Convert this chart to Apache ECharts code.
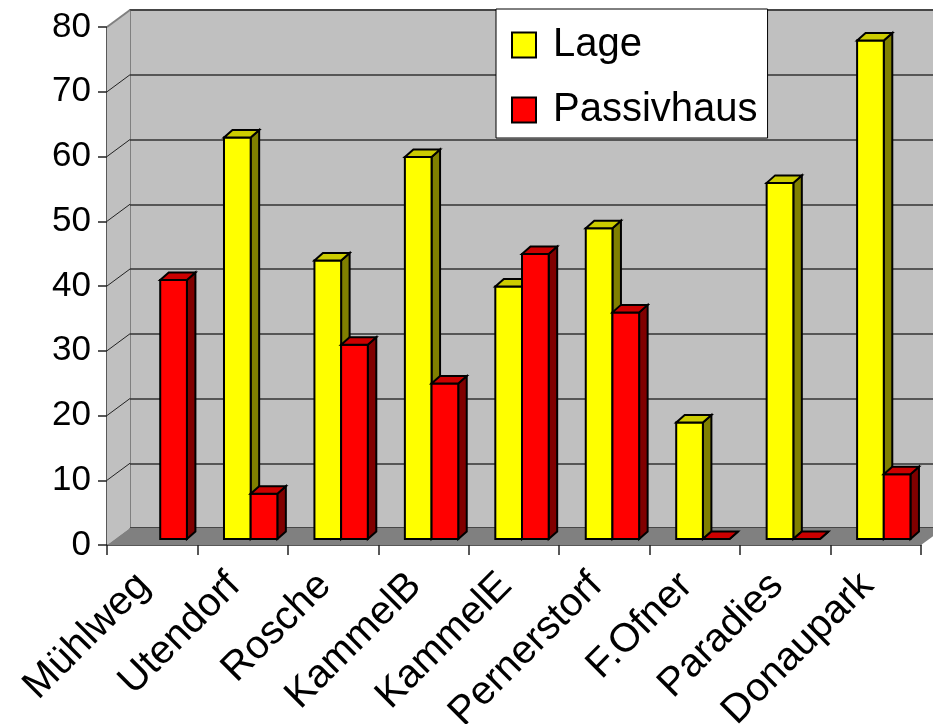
<!DOCTYPE html>
<html>
<head>
<meta charset="utf-8">
<script src="https://cdn.jsdelivr.net/npm/echarts@6/dist/echarts.min.js"></script>
<style>
  html, body { margin: 0; padding: 0; background: #fff; }
  #chart { width: 933px; height: 724px; }
</style>
</head>
<body>
<div id="chart"></div>
<script>
// Sites compared on two criteria
const categories = ['Mühlweg', 'Utendorf', 'Rosche', 'KammelB', 'KammelE', 'Pernerstorf', 'F.Ofner', 'Paradies', 'Donaupark'];
const lage = [null, 62, 43, 59, 39, 48, 18, 55, 77];
const passivhaus = [40, 7, 30, 24, 44, 35, 0, 0, 10];
const valueTicks = [0, 10, 20, 30, 40, 50, 60, 70, 80];
const seriesNames = ['Lage', 'Passivhaus'];

const FONT = 'Liberation Sans, Arial, sans-serif';

// oblique projection of the chart box (pixels)
const WALL_DX = 23, WALL_DY = -17;    // full depth of floor / side wall
const BAR_OFF_DX = 8, BAR_OFF_DY = -6; // bars sit a bit behind the front edge
const BAR_DX = 8.5, BAR_DY = -7.5;    // depth of a single column
const BAR_W = 0.295;                  // column width as share of category band

const palette = {
  Lage: { front: '#ffff00', side: '#808000', top: '#cccc00' },
  Passivhaus: { front: '#ff0000', side: '#800000', top: '#cc0000' }
};

function poly(points, fill) {
  return {
    type: 'polygon',
    shape: { points },
    style: { fill, stroke: '#000', lineWidth: 2, lineJoin: 'miter' }
  };
}

function columnRenderer(side, colors) {
  return function (params, api) {
    const c = api.value(0), v = api.value(1);
    if (v === null || v === undefined || isNaN(v)) return;
    const band = api.size([1, 0])[0];
    const w = band * BAR_W;
    const base = api.coord([c, 0]);
    const peak = api.coord([c, v]);
    const x0 = base[0] + BAR_OFF_DX + (side < 0 ? -w : 0);
    const x1 = x0 + w;
    const yb = base[1] + BAR_OFF_DY;
    const yt = peak[1] + BAR_OFF_DY;
    return {
      type: 'group',
      children: [
        poly([[x1, yb], [x1 + BAR_DX, yb + BAR_DY], [x1 + BAR_DX, yt + BAR_DY], [x1, yt]], colors.side),
        poly([[x0, yb], [x1, yb], [x1, yt], [x0, yt]], colors.front),
        poly([[x0, yt], [x1, yt], [x1 + BAR_DX, yt + BAR_DY], [x0 + BAR_DX, yt + BAR_DY]], colors.top)
      ]
    };
  };
}

// left side wall and floor of the chart box
function chamberRenderer(params, api) {
  const band = api.size([1, 0])[0];
  const left = api.coord([0, 0])[0] - band / 2;
  const right = api.coord([categories.length - 1, 0])[0] + band / 2;
  const yZero = api.coord([0, valueTicks[0]])[1];
  const yTop = api.coord([0, valueTicks[valueTicks.length - 1]])[1];
  const children = [
    {
      type: 'polygon',
      shape: { points: [[left, yTop], [left + WALL_DX, yTop + WALL_DY], [left + WALL_DX, yZero + WALL_DY], [left, yZero]] },
      style: { fill: '#c0c0c0' }
    },
    {
      type: 'polygon',
      shape: { points: [[left, yZero], [right, yZero], [right + WALL_DX, yZero + WALL_DY], [left + WALL_DX, yZero + WALL_DY]] },
      style: { fill: '#808080' }
    },
    {
      type: 'line',
      shape: { x1: left, y1: yTop, x2: left + WALL_DX, y2: yTop + WALL_DY },
      style: { stroke: '#808080', lineWidth: 2 }
    }
  ];
  valueTicks.slice(1, -1).forEach(t => {
    const y = api.coord([0, t])[1];
    children.push({
      type: 'line',
      shape: { x1: left, y1: y, x2: left + WALL_DX, y2: y + WALL_DY },
      style: { stroke: '#222', lineWidth: 1 }
    });
  });
  return { type: 'group', children };
}

const chart = echarts.init(document.getElementById('chart'), null, { renderer: 'canvas' });

chart.setOption({
  backgroundColor: '#fff',
  animation: false,
  textStyle: { fontFamily: FONT },
  legend: {
    data: seriesNames,
    orient: 'vertical',
    left: 496,
    top: 9,
    padding: [16, 10, 8, 15],
    itemGap: 25,
    itemWidth: 24,
    itemHeight: 25,
    icon: 'rect',
    selectedMode: false,
    backgroundColor: '#fff',
    borderColor: '#000',
    borderWidth: 1,
    itemStyle: { borderColor: '#000', borderWidth: 2 },
    textStyle: { fontSize: 40, color: '#000', fontFamily: FONT, padding: [0, 0, 0, 12] }
  },
  grid: [
    // front plane: axes, ticks and labels
    { left: 107, right: 12, top: 27, bottom: 179, containLabel: false, outerBoundsMode: 'none' },
    // back wall
    { left: 107 + WALL_DX, right: 12 - WALL_DX, top: 27 + WALL_DY, bottom: 179 - WALL_DY,
      containLabel: false, outerBoundsMode: 'none',
      show: true, backgroundColor: '#c0c0c0', borderColor: '#808080', borderWidth: 2, z: -1 }
  ],
  xAxis: [
    {
      type: 'category', gridIndex: 0, data: categories, boundaryGap: true,
      axisLine: { show: true, lineStyle: { color: '#222', width: 1.5 } },
      axisTick: { show: true, interval: 0, length: 10, lineStyle: { color: '#222', width: 1.5 } },
      axisLabel: { interval: 0, rotate: 45, fontSize: 40, color: '#000', fontFamily: FONT,
                   margin: 26, padding: [0, 12, 0, 0] },
      splitLine: { show: false }
    },
    {
      type: 'category', gridIndex: 1, data: categories, boundaryGap: true,
      axisLine: { show: false }, axisTick: { show: false }, axisLabel: { show: false },
      splitLine: { show: false }
    }
  ],
  yAxis: [
    {
      type: 'value', gridIndex: 0, min: 0, max: 80, interval: 10,
      axisLine: { show: true, lineStyle: { color: '#222', width: 1.5 } },
      axisTick: { show: true, length: 9, lineStyle: { color: '#222', width: 1.5 } },
      axisLabel: { fontSize: 35, color: '#000', fontFamily: FONT, margin: 16 },
      splitLine: { show: false }
    },
    {
      type: 'value', gridIndex: 1, min: 0, max: 80, interval: 10,
      axisLine: { show: false }, axisTick: { show: false }, axisLabel: { show: false },
      splitLine: { show: true, lineStyle: { color: '#333', width: 1.5 } }
    }
  ],
  series: [
    {
      name: 'chamber', type: 'custom', xAxisIndex: 0, yAxisIndex: 0,
      data: [[0, 0]], renderItem: chamberRenderer, silent: true, z: 1
    },
    {
      name: seriesNames[0], type: 'custom', xAxisIndex: 0, yAxisIndex: 0,
      itemStyle: { color: palette.Lage.front },
      data: categories.map((c, i) => [i, lage[i] === null ? '-' : lage[i]]),
      renderItem: columnRenderer(-1, palette.Lage), z: 2
    },
    {
      name: seriesNames[1], type: 'custom', xAxisIndex: 0, yAxisIndex: 0,
      itemStyle: { color: palette.Passivhaus.front },
      data: categories.map((c, i) => [i, passivhaus[i]]),
      renderItem: columnRenderer(1, palette.Passivhaus), z: 3
    }
  ]
});
</script>
</body>
</html>
